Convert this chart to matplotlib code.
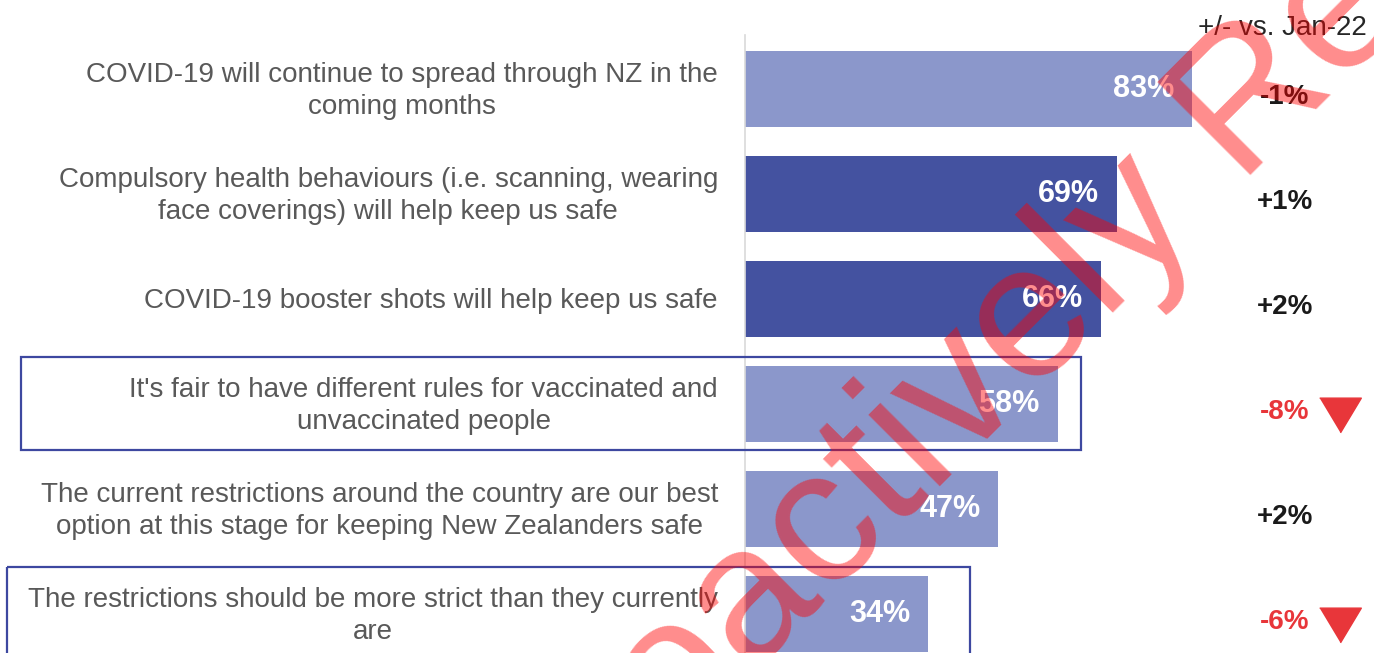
import numpy as np
import matplotlib.pyplot as plt
from matplotlib.patches import Rectangle

plt.rcParams['font.family'] = ['Liberation Sans', 'DejaVu Sans']

# %% data

statements = [
    "COVID-19 will continue to spread through NZ in the\ncoming months",
    "Compulsory health behaviours (i.e. scanning, wearing\nface coverings) will help keep us safe",
    "COVID-19 booster shots will help keep us safe",
    "It's fair to have different rules for vaccinated and\nunvaccinated people",
    "The current restrictions around the country are our best\noption at this stage for keeping New Zealanders safe",
    "The restrictions should be more strict than they currently\nare",
]
agree = [83, 69, 66, 58, 47, 34]
change = [-1, 1, 2, -8, 2, -6]
dark_bar = [False, True, True, False, False, False]
sig_down = [False, False, False, True, False, True]
boxed = [3, 5]

# %% layout

W, H = 1374, 653
fig = plt.figure(figsize=(W / 100, H / 100), dpi=100)
ax = fig.add_axes([745 / W, 0, 1 - 745 / W, 1 - 35 / H])

light, dark = "#8B97CB", "#4452A0"
red = "#E8363A"

y = np.arange(len(agree))
colors = [dark if d else light for d in dark_bar]
ax.barh(y, agree, height=0.72, color=colors, zorder=2)

ax.set_xlim(0, 629 / 5.39)
ax.set_ylim(5.371, -0.514)
for s in ["top", "right", "bottom"]:
    ax.spines[s].set_visible(False)
ax.spines["left"].set_color("#D9D9D9")
ax.spines["left"].set_linewidth(1.2)
ax.set_xticks([])
ax.set_yticks([])

ytr = ax.get_yaxis_transform()

for i, (txt, v) in enumerate(zip(statements, agree)):
    ax.text(-0.043, i + 0.02, txt, transform=ytr, ha="right", va="center",
            multialignment="center", fontsize=20, color="#595959",
            linespacing=1.27)
    ax.text(v - 3.3, i, f"{v}%", ha="right", va="center", fontsize=22,
            fontweight="bold", color="white", zorder=3)

for i, c in enumerate(change):
    col = red if c <= -5 else "#1A1A1A"
    ax.text(0.8585, i + 0.075, f"{c:+d}%", transform=ytr, ha="center",
            va="center", fontsize=20, fontweight="bold", color=col)
    if sig_down[i]:
        ax.plot([0.946], [i + 0.1], transform=ytr, marker=[(-1.2, 1), (1.2, 1), (0, -1)],
                markersize=30, color=red, clip_on=False)

fig.text(1367 / W, 1 - 28 / H, "+/- vs. Jan-22", ha="right", va="center",
         fontsize=20, color="#262626")

# outlined rows
box_px = {3: (21, 1081), 5: (7, 970)}
for i in boxed:
    x0, x1 = box_px[i]
    ax.add_patch(Rectangle(((x0 - 745) / 629, i - 0.448), (x1 - x0) / 629, 0.886,
                           transform=ytr, fill=False, edgecolor="#3D48A0",
                           linewidth=1.6, clip_on=False, zorder=4))

# watermark
fig.text(1176 / W, 1 - 250 / H, "Proactively Released", fontsize=138,
         color=(1, 0, 0, 0.45), rotation=45, rotation_mode="anchor",
         ha="center", va="baseline", zorder=10)

fig.savefig("out.png", dpi=100)
